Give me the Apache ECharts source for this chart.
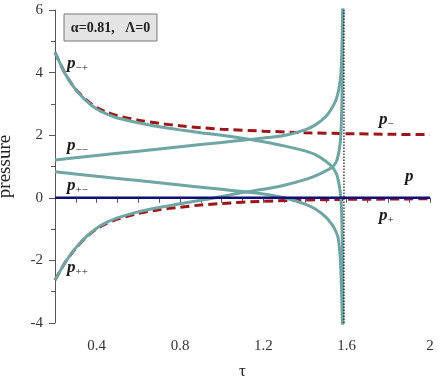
<!DOCTYPE html>
<html lang="en">
<head>
<meta charset="UTF-8">
<title>pressure</title>
<style>
  html, body { margin: 0; padding: 0; background: #fff; }
  #main { width: 440px; height: 382px; }
</style>
</head>
<body>
<div id="main"></div>
<script src="https://cdn.jsdelivr.net/npm/echarts@6/dist/echarts.min.js"></script>
<script>
// tau grids and pressure branches
var tauMP = [0.2, 0.25, 0.3, 0.35, 0.4, 0.45, 0.5, 0.6, 0.7, 0.8, 0.9, 1.0, 1.1, 1.2, 1.3, 1.4, 1.45, 1.5, 1.53, 1.55, 1.56, 1.57, 1.575, 1.578, 1.58, 1.582];
var pMinusPlus = [4.65, 3.95, 3.45, 3.1, 2.84, 2.67, 2.55, 2.4, 2.27, 2.17, 2.08, 2.0, 1.9, 1.79, 1.66, 1.5, 1.38, 1.17, 0.99, 0.78, 0.55, 0.15, -0.35, -1.1, -2.3, -4.2];

var tauMM = [0.2, 0.4, 0.6, 0.8, 1.0, 1.1, 1.2, 1.3, 1.4, 1.45, 1.5, 1.53, 1.55, 1.56, 1.57, 1.575, 1.578, 1.58, 1.582];
var pMinusMinus = [1.21, 1.35, 1.49, 1.63, 1.77, 1.84, 1.91, 1.99, 2.17, 2.33, 2.6, 2.88, 3.15, 3.4, 3.8, 4.3, 5.0, 5.6, 6.2];

var tauPP = [0.2, 0.25, 0.3, 0.35, 0.4, 0.45, 0.5, 0.6, 0.7, 0.8, 0.9, 1.0, 1.1, 1.2, 1.3, 1.4, 1.45, 1.5, 1.53, 1.55, 1.56, 1.57, 1.575, 1.578, 1.58, 1.582];
var pPlusPlus = [-2.63, -2.05, -1.6, -1.24, -0.97, -0.78, -0.64, -0.45, -0.31, -0.19, -0.08, 0.04, 0.17, 0.27, 0.4, 0.58, 0.7, 0.86, 0.98, 1.15, 1.38, 1.8, 2.5, 3.4, 4.8, 6.2];

var tauPM = [0.2, 0.4, 0.6, 0.8, 1.0, 1.1, 1.2, 1.3, 1.4, 1.45, 1.5, 1.53, 1.55, 1.56, 1.57, 1.575, 1.578, 1.58];
var pPlusMinus = [0.83, 0.69, 0.55, 0.41, 0.27, 0.2, 0.12, 0.0, -0.2, -0.36, -0.62, -0.86, -1.1, -1.32, -2.0, -2.9, -3.6, -4.2];

var tauAsym = [0.2, 0.25, 0.3, 0.35, 0.4, 0.45, 0.5, 0.6, 0.7, 0.8, 0.9, 1.0, 1.2, 1.4, 1.6, 1.8, 2.0];
var pMinus = [4.65, 3.95, 3.46, 3.13, 2.88, 2.73, 2.62, 2.48, 2.38, 2.3, 2.24, 2.19, 2.13, 2.08, 2.05, 2.03, 2.02];
var pPlus = [-2.63, -2.05, -1.61, -1.26, -0.99, -0.81, -0.68, -0.5, -0.38, -0.3, -0.23, -0.18, -0.11, -0.07, -0.05, -0.04, -0.03];

var tauP = [0.2, 2.0];
var pZero = [0, 0];

var tauCrit = 1.587;
var yRange = [-4, 6];

function pairs(xs, ys) {
    return xs.map(function (x, i) { return [x, ys[i]]; });
}

var serif = 'Liberation Serif';
var teal = '#6fa5a2';
var darkRed = '#9b1616';

var labelRich = {
    p: { fontFamily: serif, fontStyle: 'italic', fontWeight: 'bold', fontSize: 17, fill: '#1a1a1a', lineHeight: 20 },
    s: { fontFamily: serif, fontSize: 11, fill: '#1a1a1a', lineHeight: 20, padding: [8, 0, 0, 0] }
};

function pLabel(x, y, sub) {
    return {
        type: 'text', x: x, y: y, z: 100,
        style: { text: sub ? '{p|p}{s|' + sub + '}' : '{p|p}', rich: labelRich, verticalAlign: 'middle' }
    };
}

function curve(name, data, color, width, dash, z) {
    return {
        name: name, type: 'line', data: data, showSymbol: false, z: z,
        smooth: 0.25,
        lineStyle: { color: color, width: width, type: dash || 'solid' }
    };
}

var myChart = echarts.init(document.getElementById('main'));

var option = {
    animation: false,
    grid: { left: 55, top: 10, right: 10, bottom: 59, outerBoundsMode: 'none', containLabel: false },
    xAxis: {
        type: 'value',
        min: 0.2, max: 2, interval: 0.1,
        name: 'τ', nameLocation: 'middle', nameGap: 40,
        nameTextStyle: { fontFamily: serif, fontSize: 17, color: '#222' },
        axisLine: { lineStyle: { color: '#555' } },
        axisTick: { inside: false, length: 5, lineStyle: { color: '#555' } },
        axisLabel: {
            fontFamily: serif, fontSize: 15, color: '#333', margin: 16,
            formatter: function (v) {
                var k = v / 0.4;
                if (Math.abs(k - Math.round(k)) < 1e-6) {
                    return String(Math.round(v * 10) / 10);
                }
                return '';
            }
        },
        splitLine: { show: false }
    },
    yAxis: {
        type: 'value',
        min: yRange[0], max: yRange[1], interval: 2,
        name: 'pressure', nameLocation: 'middle', nameGap: 40, nameRotate: 90,
        nameMoveOverlap: false,
        nameTextStyle: { fontFamily: serif, fontSize: 19, color: '#222' },
        axisLine: { show: true, lineStyle: { color: '#555' } },
        axisTick: { show: true, inside: false, length: 6, lineStyle: { color: '#555' } },
        minorTick: { show: true, splitNumber: 2, length: 4, lineStyle: { color: '#555' } },
        axisLabel: { fontFamily: serif, fontSize: 15, color: '#333', margin: 12 },
        splitLine: { show: false }
    },
    series: [
        curve('p-', pairs(tauAsym, pMinus), darkRed, 3, [9, 5], 2),
        curve('p+', pairs(tauAsym, pPlus), darkRed, 3, [9, 5], 2),
        curve('p-+', pairs(tauMP, pMinusPlus), teal, 3, null, 3),
        curve('p--', pairs(tauMM, pMinusMinus), teal, 3, null, 3),
        curve('p++', pairs(tauPP, pPlusPlus), teal, 3, null, 3),
        curve('p+-', pairs(tauPM, pPlusMinus), teal, 3, null, 3),
        curve('p', pairs(tauP, pZero), '#0d0d78', 2.5, null, 4),
        {
            name: 'critical', type: 'line', data: [[tauCrit, yRange[0]], [tauCrit, yRange[1]]],
            showSymbol: false, z: 5,
            lineStyle: { color: '#111', width: 1.2, type: [1.5, 1.5] }
        }
    ],
    graphic: [
        {
            type: 'rect', z: 100,
            shape: { x: 64, y: 14, width: 93, height: 27 },
            style: { fill: '#e4e4e4', stroke: '#777', lineWidth: 1 }
        },
        {
            type: 'text', z: 101, x: 110.5, y: 28,
            style: {
                text: 'α=0.81,   Λ=0', fontFamily: serif, fontWeight: 'bold', fontSize: 14,
                fill: '#222', align: 'center', verticalAlign: 'middle'
            }
        },
        pLabel(67, 64, '−+'),
        pLabel(67, 146, '−−'),
        pLabel(67, 186, '+−'),
        pLabel(67, 268, '++'),
        pLabel(379, 120, '−'),
        pLabel(405, 177, ''),
        pLabel(379, 216, '+')
    ]
};

myChart.setOption(option);
</script>
</body>
</html>
